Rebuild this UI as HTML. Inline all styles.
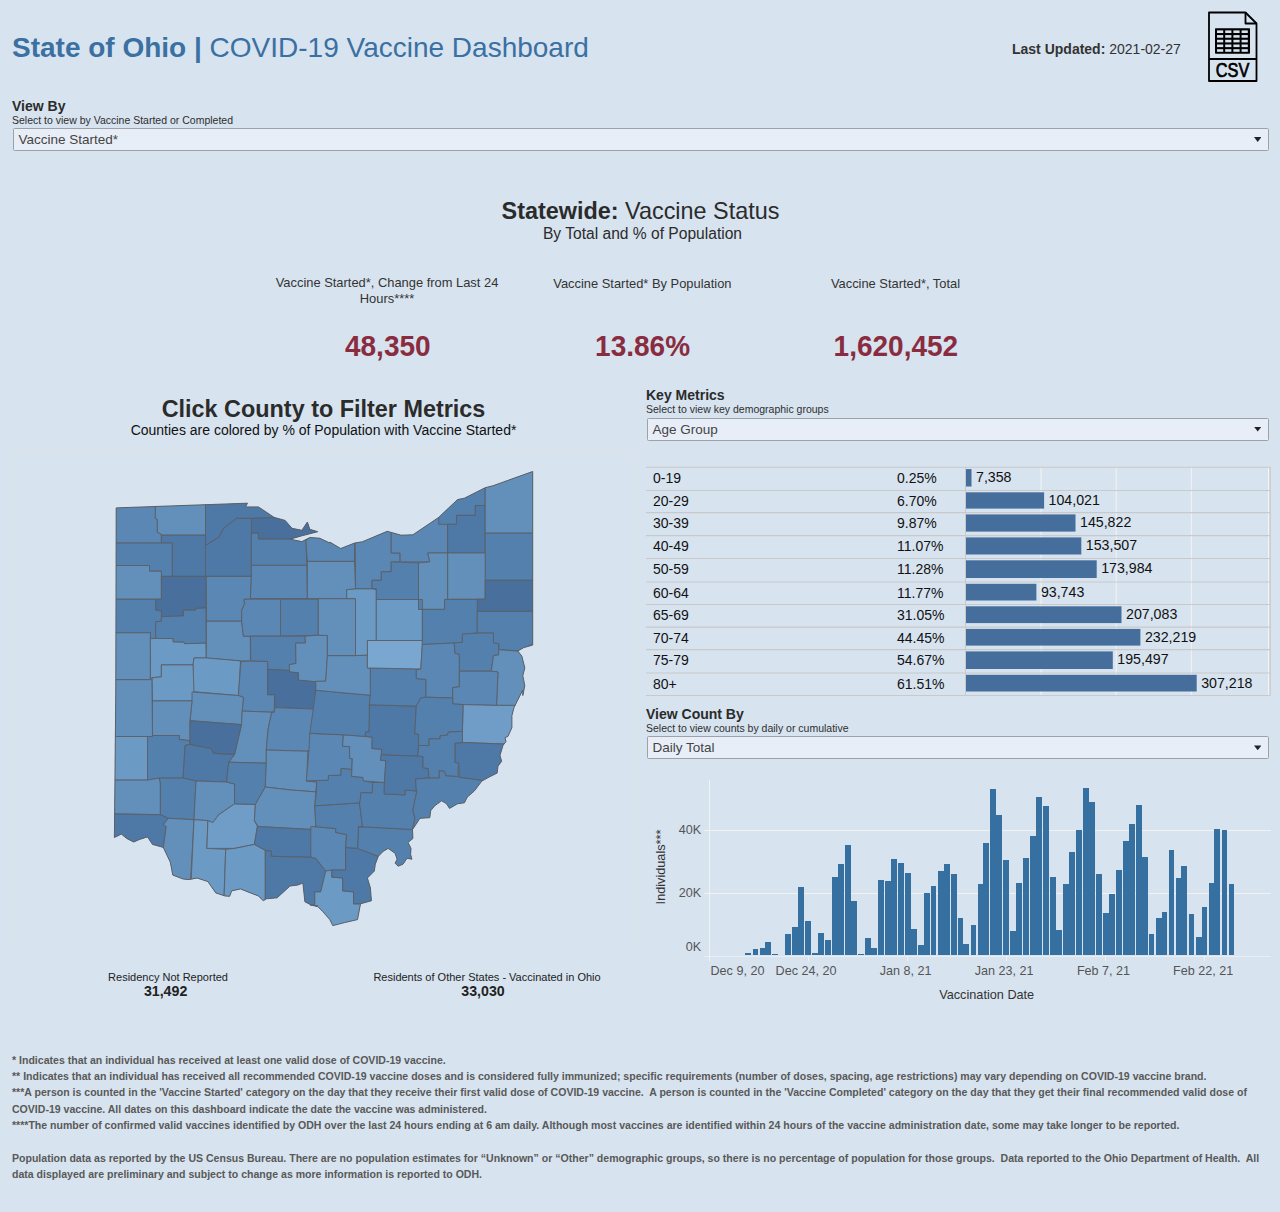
<!DOCTYPE html>
<html><head><meta charset="utf-8">
<title>State of Ohio | COVID-19 Vaccine Dashboard</title>
<style>
*{margin:0;padding:0;box-sizing:border-box}
html,body{width:1280px;height:1212px;overflow:hidden;background:#d7e3ef;font-family:"Liberation Sans",Arial,sans-serif;color:#333}
.a{position:absolute;white-space:nowrap}
.title{left:12px;top:31.7px;font-size:28px;color:#3a70a2}
.upd{left:1012px;top:40.8px;font-size:14px;color:#333}
.lbl{font-size:14px;font-weight:bold;color:#2b2b2b}
.sub{font-size:10.5px;color:#2e2e2e}
.dd{position:absolute;background:#e8eef7;border:1px solid #9ea2a7;border-radius:1.5px;height:23px;font-size:13.5px;color:#333;padding-left:4.5px;line-height:22px;color:#444}
.dd:after{content:"";position:absolute;right:6.6px;top:8px;width:7.4px;height:4.9px;background:#222;clip-path:polygon(0 0,100% 0,50% 100%)}
.kl{font-size:12.9px;color:#333;text-align:center}
.kv{font-size:28px;font-weight:bold;color:#8a2c40;text-align:center;transform:scaleY(1.06);transform-origin:50% 25.8px}
.foot{left:12px;font-size:10.55px;font-weight:bold;color:#595959;line-height:16.3px}
.tt{font-size:14px;fill:#111}
.tv{font-size:14.2px;fill:#111}
.ax{font-size:12.6px;fill:#555}
.axt{font-size:12.7px;fill:#333}
svg text{font-family:"Liberation Sans",Arial,sans-serif}
</style></head><body>
<div class="a title"><b>State of Ohio |</b> COVID-19 Vaccine Dashboard</div>
<div class="a upd"><b>Last Updated:</b> 2021-02-27</div>
<svg class="a" style="left:1204px;top:8px" width="58" height="78" viewBox="1204 8 58 78">
 <path d="M1209 12.5 H1245.5 L1256.5 23.5 V81 H1209 Z" fill="none" stroke="#000" stroke-width="1.8" stroke-linejoin="round"/>
 <path d="M1245.5 12.5 V23.5 H1256.5" fill="none" stroke="#000" stroke-width="1.8" stroke-linejoin="round"/>
 <line x1="1209" y1="59" x2="1256.5" y2="59" stroke="#000" stroke-width="1.8"/>
 <rect x="1215" y="28.2" width="35" height="25.6" fill="#000" rx="0.8"/>
 <g fill="#d7e3ef">
  <rect x="1217" y="30.4" width="6.2" height="2.6"/><rect x="1225.2" y="30.4" width="6.2" height="2.6"/><rect x="1233.4" y="30.4" width="6.2" height="2.6"/><rect x="1241.6" y="30.4" width="6.2" height="2.6"/>
  <rect x="1217" y="35.1" width="6.2" height="2.6"/><rect x="1225.2" y="35.1" width="6.2" height="2.6"/><rect x="1233.4" y="35.1" width="6.2" height="2.6"/><rect x="1241.6" y="35.1" width="6.2" height="2.6"/>
  <rect x="1217" y="39.8" width="6.2" height="2.6"/><rect x="1225.2" y="39.8" width="6.2" height="2.6"/><rect x="1233.4" y="39.8" width="6.2" height="2.6"/><rect x="1241.6" y="39.8" width="6.2" height="2.6"/>
  <rect x="1217" y="44.5" width="6.2" height="2.6"/><rect x="1225.2" y="44.5" width="6.2" height="2.6"/><rect x="1233.4" y="44.5" width="6.2" height="2.6"/><rect x="1241.6" y="44.5" width="6.2" height="2.6"/>
  <rect x="1217" y="49.2" width="6.2" height="2.6"/><rect x="1225.2" y="49.2" width="6.2" height="2.6"/><rect x="1233.4" y="49.2" width="6.2" height="2.6"/><rect x="1241.6" y="49.2" width="6.2" height="2.6"/>
 </g>
 <text x="1232.6" y="77.4" font-family="DejaVu Sans" font-size="19.4" text-anchor="middle" fill="#000" stroke="#000" stroke-width="0.7" textLength="33.5" lengthAdjust="spacingAndGlyphs">CSV</text>
</svg>

<div class="a lbl" style="left:12px;top:98px">View By</div>
<div class="a sub" style="left:12px;top:113.8px">Select to view by Vaccine Started or Completed</div>
<div class="dd" style="left:13px;top:128px;width:1256px">Vaccine Started*</div>

<div class="a" style="left:0;width:1280px;top:198.3px;text-align:center;font-size:23.4px;color:#2b2b2b;padding-left:1px"><b>Statewide:</b> Vaccine Status</div>
<div class="a" style="left:0;width:1280px;top:225.3px;text-align:center;font-size:15.6px;color:#2b2b2b;padding-left:5px">By Total and % of Population</div>

<div class="a kl" style="left:267px;width:240px;top:275.0px;white-space:normal;line-height:16.3px">Vaccine Started*, Change from Last 24 Hours****</div>
<div class="a kl" style="left:522.4px;width:240px;top:275.6px">Vaccine Started* By Population</div>
<div class="a kl" style="left:775.5px;width:240px;top:275.6px">Vaccine Started*, Total</div>
<div class="a kv" style="left:267.8px;width:240px;top:331.35px">48,350</div>
<div class="a kv" style="left:522.6px;width:240px;top:331.35px">13.86%</div>
<div class="a kv" style="left:775.9px;width:240px;top:331.35px">1,620,452</div>

<!-- MAP -->
<div class="a" style="left:0;width:647px;top:395.8px;text-align:center;font-size:23.4px;font-weight:bold;color:#2b2b2b">Click County to Filter Metrics</div>
<div class="a" style="left:0;width:647px;top:421.5px;text-align:center;font-size:14px;color:#111">Counties are colored by % of Population with Vaccine Started*</div>
<div class="a" style="left:12px;top:449px;width:625px;height:501px;border:1px solid #dfe2e6"></div>
<svg class="a" style="left:0;top:440px" width="640" height="520" viewBox="0 440 640 520">
<defs><clipPath id="oh"><polygon points="116.2,507.9 247.5,503.2 245.5,506.9 258.4,506.9 274.2,517.4 285.1,520.4 292.0,528.3 301.9,530.3 307.4,522.0 309.8,529.3 317.7,531.7 301.9,535.8 290.0,539.2 301.9,541.6 309.8,537.6 319.7,538.2 330.0,543.1 329.8,542.1 340.7,548.5 354.5,543.1 362.5,541.7 387.2,531.3 401.1,535.2 412.9,534.8 438.7,517.4 457.5,499.6 464.4,498.2 485.2,487.7 493.1,485.7 532.7,471.5 532.7,645.1 523.8,647.6 517.8,651.0 521.8,656.0 524.8,667.8 522.8,675.8 524.8,685.7 522.8,695.6 522.8,690.0 516.8,701.9 513.9,707.8 511.9,715.7 511.9,727.6 507.9,736.5 505.0,737.5 506.0,741.5 503.0,745.4 500.0,755.3 501.6,761.3 498.0,766.2 497.1,773.1 489.1,777.1 481.8,781.1 474.3,791.0 467.4,796.9 464.4,802.8 457.5,803.8 449.5,808.4 446.6,803.8 441.6,800.8 434.7,805.8 430.7,810.7 429.8,817.7 419.9,818.3 415.9,824.6 412.5,829.5 412.9,838.5 408.0,842.4 411.0,848.4 410.6,854.3 411.9,859.2 407.0,858.3 403.0,864.2 398.1,866.2 395.1,863.2 397.1,859.2 395.1,853.3 388.2,848.4 383.2,851.3 378.3,856.3 375.3,864.2 374.3,871.1 367.4,878.0 370.4,887.9 371.4,900.8 360.5,903.8 357.5,919.6 344.6,922.6 332.8,925.6 329.8,919.6 322.9,911.7 317.9,906.7 310.0,904.8 317.7,905.8 310.8,904.8 304.9,901.8 302.9,883.0 297.9,885.0 290.0,886.0 277.2,897.8 266.3,898.8 263.3,900.8 258.4,895.9 250.4,892.9 240.5,888.9 231.6,890.9 229.7,896.3 224.7,895.9 215.8,892.9 207.9,881.6 197.0,878.0 189.1,879.6 183.1,879.0 172.8,875.1 170.3,862.2 163.3,847.4 152.5,844.4 147.5,836.9 139.6,839.4 133.7,842.0 126.7,838.5 121.4,834.1 114.4,837.5 115.8,690.0"/></clipPath></defs>
<polygon points="116.2,507.9 247.5,503.2 245.5,506.9 258.4,506.9 274.2,517.4 285.1,520.4 292.0,528.3 301.9,530.3 307.4,522.0 309.8,529.3 317.7,531.7 301.9,535.8 290.0,539.2 301.9,541.6 309.8,537.6 319.7,538.2 330.0,543.1 329.8,542.1 340.7,548.5 354.5,543.1 362.5,541.7 387.2,531.3 401.1,535.2 412.9,534.8 438.7,517.4 457.5,499.6 464.4,498.2 485.2,487.7 493.1,485.7 532.7,471.5 532.7,645.1 523.8,647.6 517.8,651.0 521.8,656.0 524.8,667.8 522.8,675.8 524.8,685.7 522.8,695.6 522.8,690.0 516.8,701.9 513.9,707.8 511.9,715.7 511.9,727.6 507.9,736.5 505.0,737.5 506.0,741.5 503.0,745.4 500.0,755.3 501.6,761.3 498.0,766.2 497.1,773.1 489.1,777.1 481.8,781.1 474.3,791.0 467.4,796.9 464.4,802.8 457.5,803.8 449.5,808.4 446.6,803.8 441.6,800.8 434.7,805.8 430.7,810.7 429.8,817.7 419.9,818.3 415.9,824.6 412.5,829.5 412.9,838.5 408.0,842.4 411.0,848.4 410.6,854.3 411.9,859.2 407.0,858.3 403.0,864.2 398.1,866.2 395.1,863.2 397.1,859.2 395.1,853.3 388.2,848.4 383.2,851.3 378.3,856.3 375.3,864.2 374.3,871.1 367.4,878.0 370.4,887.9 371.4,900.8 360.5,903.8 357.5,919.6 344.6,922.6 332.8,925.6 329.8,919.6 322.9,911.7 317.9,906.7 310.0,904.8 317.7,905.8 310.8,904.8 304.9,901.8 302.9,883.0 297.9,885.0 290.0,886.0 277.2,897.8 266.3,898.8 263.3,900.8 258.4,895.9 250.4,892.9 240.5,888.9 231.6,890.9 229.7,896.3 224.7,895.9 215.8,892.9 207.9,881.6 197.0,878.0 189.1,879.6 183.1,879.0 172.8,875.1 170.3,862.2 163.3,847.4 152.5,844.4 147.5,836.9 139.6,839.4 133.7,842.0 126.7,838.5 121.4,834.1 114.4,837.5 115.8,690.0" fill="#5a87b4"/>
<g clip-path="url(#oh)" stroke="#5b6066" stroke-width="0.9" stroke-linejoin="round">
<polygon points="107.9,499.6 155.4,499.6 155.4,518.4 157.4,519.4 157.4,532.2 161.4,534.2 161.4,543.1 107.9,543.1" fill="#5a87b4"/>
<polygon points="155.4,499.6 205.5,499.6 205.5,535.2 161.4,535.2 161.4,534.2 157.4,532.2 157.4,519.4 155.4,518.4" fill="#6290bb"/>
<polygon points="205.5,495.6 278.1,495.6 278.1,517.4 251.4,518.4 236.6,518.4 223.7,528.3 218.8,537.2 206.9,544.7 205.5,544.7" fill="#4e78a5"/>
<polygon points="251.4,518.4 278.1,517.4 278.1,511.5 337.5,511.5 337.5,537.2 305.9,539.2 258.4,539.2 258.4,533.2 251.4,533.2" fill="#49709c"/>
<polygon points="161.4,535.2 205.5,535.2 205.5,576.4 172.2,576.4 172.2,543.1 161.4,543.1" fill="#4e78a5"/>
<polygon points="205.5,544.7 206.9,544.7 218.8,537.2 223.7,528.3 236.6,518.4 251.4,518.4 251.4,576.4 205.5,576.4" fill="#4e78a5"/>
<polygon points="107.9,543.1 172.2,543.1 172.2,576.4 161.4,576.4 161.4,571.2 149.5,571.2 149.5,565.5 107.9,565.5" fill="#5480ae"/>
<polygon points="251.4,533.2 258.4,533.2 258.4,539.2 305.9,539.2 306.8,565.3 251.4,565.3" fill="#5480ae"/>
<polygon points="107.9,565.5 149.5,565.5 149.5,571.2 161.4,571.2 161.4,599.2 107.9,599.2" fill="#6290bb"/>
<polygon points="161.4,576.4 206.3,576.4 205.9,607.9 195.5,608.5 195.5,610.2 183.4,610.2 183.4,616.0 161.4,616.6 161.4,610.8 155.6,610.2 155.6,599.3 161.4,599.2" fill="#49709c"/>
<polygon points="206.3,576.4 251.4,576.4 250.4,599.2 244.0,599.3 244.6,603.9 241.7,610.2 241.7,621.2 206.5,621.2" fill="#5a87b4"/>
<polygon points="251.4,565.3 306.8,565.3 307.4,598.6 250.4,598.6 251.4,576.4" fill="#5a87b4"/>
<polygon points="105.0,599.3 155.6,599.3 155.6,610.2 161.4,610.8 161.4,621.2 155.6,621.8 155.6,638.5 150.4,638.5 150.4,632.8 105.0,632.8" fill="#5480ae"/>
<polygon points="161.4,616.6 183.4,616.0 183.4,610.2 195.5,610.2 195.5,608.5 205.9,607.9 206.3,643.2 184.5,643.7 183.9,642.2 173.0,642.0 173.0,638.5 155.6,638.5 155.6,621.8 161.4,621.2" fill="#5480ae"/>
<polygon points="105.0,632.8 150.4,632.8 150.4,679.7 105.0,679.7" fill="#6290bb"/>
<polygon points="150.4,638.5 173.0,638.5 173.0,642.0 183.9,642.2 184.5,643.7 205.9,643.2 206.3,658.0 194.0,658.0 193.0,664.9 161.4,664.9 161.4,676.8 151.9,677.8 150.5,679.7" fill="#6b9ac5"/>
<polygon points="206.5,621.2 241.7,621.2 243.4,636.2 250.4,636.6 250.4,660.9 240.5,660.9 206.3,658.0" fill="#6290bb"/>
<polygon points="244.0,599.3 250.4,599.2 280.5,599.2 280.5,636.2 250.4,636.2 243.4,636.2 241.7,621.2 241.7,610.2 244.6,603.9" fill="#5a87b4"/>
<polygon points="280.5,599.2 318.3,599.2 318.3,635.2 280.5,636.2" fill="#5480ae"/>
<polygon points="194.0,657.9 206.3,657.9 240.5,660.9 238.6,695.6 193.0,691.6 193.0,664.9" fill="#6b9ac5"/>
<polygon points="250.4,636.2 305.0,636.2 305.5,643.1 295.7,643.1 296.0,663.4 289.4,664.7 289.5,670.5 267.6,669.3 267.6,661.5 250.8,661.1" fill="#5480ae"/>
<polygon points="305.0,636.2 318.3,635.2 327.4,635.5 327.4,655.6 325.7,681.2 316.0,681.8 298.4,680.2 298.4,672.8 289.5,672.0 289.4,664.7 296.0,663.4 295.7,643.1 305.5,643.1" fill="#6290bb"/>
<polygon points="241.0,661.5 250.8,661.1 267.6,661.5 267.6,694.7 274.6,694.7 274.2,712.3 242.2,711.1 243.4,697.4 238.3,695.5" fill="#5a87b4"/>
<polygon points="267.6,669.3 289.5,670.5 289.5,672.0 298.4,672.8 298.4,680.2 316.0,681.8 314.5,709.1 275.0,707.6 274.6,694.7 267.6,694.7" fill="#49709c"/>
<polygon points="151.9,677.8 161.4,676.8 161.4,664.9 193.0,664.9 194.0,692.0 192.0,700.9 152.5,700.9" fill="#6b9ac5"/>
<polygon points="100.0,679.7 150.5,679.7 151.9,677.8 152.5,736.5 100.0,736.5" fill="#6290bb"/>
<polygon points="192.0,692.0 238.3,695.5 243.4,697.4 242.2,711.1 241.5,724.6 190.0,720.7 192.0,700.9" fill="#6290bb"/>
<polygon points="242.2,711.1 274.2,712.3 271.9,712.3 270.0,720.0 268.0,730.0 266.3,750.0 266.3,763.2 228.7,762.2 234.6,754.3 241.5,724.6" fill="#6290bb"/>
<polygon points="271.9,712.3 274.2,712.3 275.0,707.6 314.5,709.1 313.3,720.0 312.5,733.0 310.0,751.3 266.3,750.0 268.0,730.0 270.0,720.0" fill="#5a87b4"/>
<polygon points="152.5,700.9 192.0,700.9 190.0,720.7 190.0,744.4 189.1,740.5 179.2,739.5 179.2,735.5 152.5,735.5" fill="#6290bb"/>
<polygon points="147.5,736.5 152.5,736.5 152.5,735.5 179.2,735.5 179.2,739.5 189.1,740.5 190.0,744.4 185.1,745.4 183.1,778.1 159.4,778.1 147.5,780.1" fill="#5480ae"/>
<polygon points="185.1,745.4 190.0,744.4 200.0,746.4 210.8,748.4 213.8,753.3 227.7,754.3 234.6,754.3 228.7,762.2 226.7,782.0 196.0,781.0 183.1,778.1" fill="#4e78a5"/>
<polygon points="190.0,720.7 241.5,724.6 234.6,754.3 213.8,753.3 210.8,748.4 200.0,746.4 190.0,744.4" fill="#49709c"/>
<polygon points="100.0,736.5 147.5,736.5 147.5,780.1 100.0,780.1" fill="#6b9ac5"/>
<polygon points="100.0,780.1 147.5,780.1 159.4,778.1 160.4,783.0 160.4,814.7 100.0,813.7" fill="#6290bb"/>
<polygon points="159.4,778.1 183.1,778.1 196.0,781.0 194.0,819.7 168.3,818.3 160.4,814.7 160.4,783.0" fill="#5480ae"/>
<polygon points="196.0,781.0 226.7,782.0 234.6,784.0 234.6,803.8 218.8,814.7 212.8,822.6 207.9,820.6 194.0,819.7" fill="#6290bb"/>
<polygon points="100.0,813.7 160.4,814.7 168.3,818.3 163.3,824.6 166.3,826.6 163.3,847.4 160.0,860.0 100.0,860.0" fill="#4e78a5"/>
<polygon points="168.3,818.3 194.0,819.7 190.0,890.0 160.0,890.0 163.3,847.4 166.3,826.6 163.3,824.6" fill="#6290bb"/>
<polygon points="194.0,819.7 207.9,820.6 206.9,848.4 225.7,849.3 223.7,905.0 190.0,905.0" fill="#6b9ac5"/>
<polygon points="207.9,820.6 212.8,822.6 218.8,814.7 234.6,803.8 255.4,804.4 254.4,820.6 257.4,826.6 254.4,844.4 234.6,848.4 206.9,848.4" fill="#6f9dc8"/>
<polygon points="225.7,849.3 234.6,848.4 254.4,844.4 265.3,850.3 265.3,910.0 223.7,910.0" fill="#6b9ac5"/>
<polygon points="228.7,762.2 266.3,763.2 265.3,787.0 255.4,804.4 234.6,803.8 234.6,784.0 226.7,782.0" fill="#5480ae"/>
<polygon points="266.3,750.0 310.0,751.3 307.8,750.4 306.8,781.0 316.7,782.0 315.8,791.9 291.0,790.0 265.3,787.0 266.3,763.2" fill="#6290bb"/>
<polygon points="255.4,804.4 265.3,787.0 291.0,790.0 315.8,791.9 314.8,805.8 315.8,826.6 312.8,829.5 258.4,826.6 254.4,820.6" fill="#6290bb"/>
<polygon points="257.4,826.6 258.4,826.6 312.8,829.5 310.8,857.3 271.2,856.3 271.2,851.3 265.3,850.3 254.4,844.4" fill="#4e78a5"/>
<polygon points="265.3,850.3 271.2,851.3 271.2,856.3 310.8,857.3 315.8,858.3 325.7,871.1 320.7,891.9 314.8,891.9 314.8,903.8 310.0,935.0 265.3,935.0" fill="#4e78a5"/>
<polygon points="310.8,826.6 315.0,826.6 335.7,828.6 335.7,832.5 346.6,834.5 345.6,847.4 345.6,870.1 331.8,870.1 325.7,871.1 315.8,858.3 310.8,857.3" fill="#5a87b4"/>
<polygon points="325.7,871.1 331.8,870.1 331.8,877.1 342.7,878.0 342.7,890.9 353.5,891.9 353.5,903.8 360.5,903.8 360.0,935.0 300.0,935.0 314.8,903.8 314.8,891.9 320.7,891.9" fill="#6b9ac5"/>
<polygon points="345.6,847.4 357.5,848.4 378.3,856.3 390.0,856.0 390.0,915.0 360.5,903.8 353.5,903.8 353.5,891.9 342.7,890.9 342.7,878.0 331.8,877.1 331.8,870.1 345.6,870.1" fill="#4e78a5"/>
<polygon points="358.5,826.6 412.5,829.5 430.0,830.0 430.0,885.0 380.0,885.0 378.3,856.3 357.5,848.4" fill="#5480ae"/>
<polygon points="315.0,805.8 359.5,802.8 362.5,826.6 358.5,826.6 357.5,848.4 345.6,847.4 346.6,834.5 335.7,832.5 335.7,828.6 315.0,826.6 315.8,826.6 314.8,805.8" fill="#5480ae"/>
<polygon points="306.3,780.9 317.2,780.5 328.1,780.2 328.5,775.5 340.6,775.1 341.0,768.4 351.6,769.2 351.6,776.3 362.9,777.4 363.3,780.9 372.7,782.5 372.3,793.0 360.9,792.7 360.2,802.8 315.0,805.8 314.8,805.8 316.4,792.7 316.7,782.0" fill="#5480ae"/>
<polygon points="372.7,782.5 384.4,782.5 384.2,793.9 405.0,794.9 405.0,790.0 416.9,791.0 412.9,810.0 414.9,818.3 412.5,829.5 358.5,826.6 362.5,826.6 359.5,802.8 360.2,800.0 360.9,792.7 372.3,793.0" fill="#5480ae"/>
<polygon points="309.8,733.3 343.4,734.8 342.6,746.2 349.6,746.6 349.6,758.3 352.3,758.7 351.6,769.2 341.0,768.4 340.6,775.1 328.5,775.5 328.1,780.2 317.2,780.5 306.3,780.9 309.0,750.1" fill="#5a87b4"/>
<polygon points="343.4,734.8 364.8,736.4 372.3,737.2 371.9,748.5 381.6,749.3 381.3,754.6 380.5,760.2 385.9,760.6 384.4,782.5 363.3,780.9 362.9,777.4 351.6,776.3 352.3,758.7 349.6,758.3 349.6,746.6 342.6,746.2" fill="#6290bb"/>
<polygon points="381.3,754.6 400.0,755.5 417.8,755.9 423.0,756.6 423.0,767.7 428.2,768.5 429.0,778.1 415.6,778.9 416.3,790.0 416.9,791.0 405.0,790.0 405.0,794.9 384.2,793.9 384.4,782.5 385.9,760.6 380.5,760.2" fill="#4e78a5"/>
<polygon points="315.8,690.2 342.2,692.7 370.3,695.2 369.4,704.8 369.5,720.0 369.1,731.7 365.6,732.1 365.2,736.4 343.4,734.8 309.8,733.3 313.3,709.0" fill="#5480ae"/>
<polygon points="369.4,704.8 416.3,706.1 414.8,733.6 418.6,734.3 418.6,745.5 417.8,755.9 400.0,755.5 381.3,754.6 381.6,749.3 371.9,748.5 372.3,737.2 365.2,736.4 365.6,732.1 369.1,731.7" fill="#4e78a5"/>
<polygon points="370.3,668.0 420.8,669.0 416.3,669.7 416.3,678.6 426.0,679.4 426.0,697.2 420.8,698.0 416.3,706.1 369.4,704.8 370.3,695.2" fill="#5480ae"/>
<polygon points="327.4,655.6 355.4,655.6 367.4,655.0 367.4,668.0 370.3,668.0 370.3,695.2 342.2,692.7 315.8,690.2 315.8,681.2 325.7,681.2" fill="#6290bb"/>
<polygon points="367.4,640.5 422.4,640.5 422.3,644.5 420.8,669.0 370.3,668.0 367.4,668.0" fill="#7aa7cf"/>
<polygon points="318.3,598.6 355.5,598.6 355.5,655.6 327.4,655.6 327.4,635.5 318.3,635.2" fill="#6290bb"/>
<polygon points="346.6,589.7 355.5,588.7 372.0,588.7 376.3,589.7 376.3,640.5 367.4,640.5 367.4,655.0 355.5,655.6 355.5,598.6 346.6,598.6" fill="#6b9ac5"/>
<polygon points="376.3,599.5 422.4,599.5 422.4,640.5 376.3,640.5" fill="#6b9ac5"/>
<polygon points="307.4,561.3 354.5,561.3 355.5,588.7 346.6,589.7 346.6,598.6 307.4,598.6" fill="#6290bb"/>
<polygon points="305.9,541.5 309.0,537.0 320.0,536.5 340.0,530.0 354.5,520.0 354.5,561.3 307.4,561.3" fill="#5a87b4"/>
<polygon points="354.5,519.4 391.2,519.4 391.2,553.0 400.1,553.0 400.1,561.9 391.2,561.9 391.2,571.8 381.3,571.8 381.3,580.3 372.0,580.3 372.0,588.7 355.5,588.7 355.5,561.3" fill="#5a87b4"/>
<polygon points="391.2,519.4 447.6,509.5 447.6,553.0 427.8,553.0 429.8,561.9 400.1,561.9 400.1,553.0 391.2,553.0" fill="#5a87b4"/>
<polygon points="428.8,509.5 485.2,460.0 485.2,505.5 475.3,505.5 475.3,515.4 456.5,515.4 456.5,524.3 438.7,524.3 438.7,517.4" fill="#5480ae"/>
<polygon points="447.6,524.3 456.5,524.3 456.5,515.4 475.3,515.4 475.3,505.5 485.2,505.5 485.2,553.0 447.6,553.0" fill="#4e78a5"/>
<polygon points="485.2,460.0 547.5,460.0 547.5,533.2 485.2,533.2" fill="#6290bb"/>
<polygon points="485.2,533.2 547.5,533.2 547.5,580.3 485.2,580.3" fill="#5480ae"/>
<polygon points="447.6,553.0 485.2,553.0 485.2,599.2 447.6,599.2" fill="#6290bb"/>
<polygon points="418.5,562.9 429.8,561.9 427.8,553.0 447.6,553.0 447.6,599.2 444.6,599.5 444.6,609.4 418.5,609.4" fill="#6290bb"/>
<polygon points="372.0,588.7 372.0,580.3 381.3,580.3 381.3,571.8 391.2,571.8 391.2,561.9 418.5,562.9 418.5,599.5 376.3,599.5 376.3,588.7" fill="#5480ae"/>
<polygon points="485.2,580.3 547.5,580.3 547.5,611.4 477.3,611.4 477.3,599.2 485.2,599.2" fill="#49709c"/>
<polygon points="418.5,609.4 444.6,609.4 444.6,599.5 477.3,599.5 477.2,633.1 462.4,634.1 462.4,642.3 454.2,643.0 422.3,644.5 422.4,640.5 422.4,599.5 418.5,599.5" fill="#5480ae"/>
<polygon points="477.3,611.4 540.0,611.4 540.0,643.8 532.9,643.8 518.0,651.2 510.6,650.4 498.7,649.7 498.7,643.8 493.5,643.0 493.5,633.1 477.2,633.1" fill="#5480ae"/>
<polygon points="422.3,644.5 454.2,643.0 455.0,653.4 459.4,654.2 459.4,686.8 452.7,687.6 452.7,698.0 426.0,697.2 426.0,679.4 416.3,678.6 416.3,669.7 420.8,669.0" fill="#5a87b4"/>
<polygon points="462.4,634.1 477.2,633.1 493.5,633.1 493.5,643.0 498.7,643.8 498.7,654.9 493.5,655.6 491.3,671.2 459.4,671.2 459.4,654.2 455.0,653.4 454.2,643.0 462.4,642.3" fill="#5480ae"/>
<polygon points="498.7,649.7 518.0,651.2 540.0,650.0 540.0,705.4 514.3,705.4 496.5,705.4 498.0,672.0 491.3,671.2 493.5,655.6 498.7,654.9" fill="#6290bb"/>
<polygon points="459.4,671.2 491.3,671.2 498.0,672.0 496.5,705.4 463.1,704.6 452.7,703.9 452.7,687.6 459.4,686.8" fill="#5a87b4"/>
<polygon points="463.1,704.6 496.5,705.4 514.3,705.4 540.0,705.0 540.0,744.0 503.9,744.0 462.4,742.5 462.4,731.4" fill="#6f9dc8"/>
<polygon points="462.4,742.5 503.9,744.0 540.0,744.0 540.0,790.0 481.7,780.4 459.4,777.4 458.6,763.3 454.9,762.5 454.9,743.2" fill="#4e78a5"/>
<polygon points="420.8,698.0 426.0,697.2 452.7,698.0 452.7,703.9 463.1,704.6 462.4,731.4 448.3,732.1 447.5,735.1 440.1,735.8 440.1,738.8 429.0,738.8 429.0,745.5 418.6,745.5 418.6,734.3 414.8,733.6 416.3,706.1" fill="#5480ae"/>
<polygon points="462.4,731.4 462.4,742.5 454.9,743.2 454.9,762.5 458.6,763.3 457.9,776.6 446.0,775.9 444.5,771.4 439.3,770.7 439.3,778.1 429.0,778.1 428.2,768.5 423.0,767.7 423.0,756.6 417.8,755.9 418.6,745.5 429.0,745.5 429.0,738.8 440.1,738.8 440.1,735.8 447.5,735.1 448.3,732.1" fill="#5480ae"/>
<polygon points="415.6,778.9 429.0,778.1 439.3,778.1 439.3,770.7 444.5,771.4 446.0,775.9 457.9,776.6 459.4,777.4 481.7,780.4 500.0,790.0 470.0,835.0 412.5,829.5 414.9,818.3 412.9,810.0 416.9,791.0 416.3,790.0" fill="#5480ae"/>
</g>
<polygon points="116.2,507.9 247.5,503.2 245.5,506.9 258.4,506.9 274.2,517.4 285.1,520.4 292.0,528.3 301.9,530.3 307.4,522.0 309.8,529.3 317.7,531.7 301.9,535.8 290.0,539.2 301.9,541.6 309.8,537.6 319.7,538.2 330.0,543.1 329.8,542.1 340.7,548.5 354.5,543.1 362.5,541.7 387.2,531.3 401.1,535.2 412.9,534.8 438.7,517.4 457.5,499.6 464.4,498.2 485.2,487.7 493.1,485.7 532.7,471.5 532.7,645.1 523.8,647.6 517.8,651.0 521.8,656.0 524.8,667.8 522.8,675.8 524.8,685.7 522.8,695.6 522.8,690.0 516.8,701.9 513.9,707.8 511.9,715.7 511.9,727.6 507.9,736.5 505.0,737.5 506.0,741.5 503.0,745.4 500.0,755.3 501.6,761.3 498.0,766.2 497.1,773.1 489.1,777.1 481.8,781.1 474.3,791.0 467.4,796.9 464.4,802.8 457.5,803.8 449.5,808.4 446.6,803.8 441.6,800.8 434.7,805.8 430.7,810.7 429.8,817.7 419.9,818.3 415.9,824.6 412.5,829.5 412.9,838.5 408.0,842.4 411.0,848.4 410.6,854.3 411.9,859.2 407.0,858.3 403.0,864.2 398.1,866.2 395.1,863.2 397.1,859.2 395.1,853.3 388.2,848.4 383.2,851.3 378.3,856.3 375.3,864.2 374.3,871.1 367.4,878.0 370.4,887.9 371.4,900.8 360.5,903.8 357.5,919.6 344.6,922.6 332.8,925.6 329.8,919.6 322.9,911.7 317.9,906.7 310.0,904.8 317.7,905.8 310.8,904.8 304.9,901.8 302.9,883.0 297.9,885.0 290.0,886.0 277.2,897.8 266.3,898.8 263.3,900.8 258.4,895.9 250.4,892.9 240.5,888.9 231.6,890.9 229.7,896.3 224.7,895.9 215.8,892.9 207.9,881.6 197.0,878.0 189.1,879.6 183.1,879.0 172.8,875.1 170.3,862.2 163.3,847.4 152.5,844.4 147.5,836.9 139.6,839.4 133.7,842.0 126.7,838.5 121.4,834.1 114.4,837.5 115.8,690.0" fill="none" stroke="#5b6066" stroke-width="1" stroke-linejoin="round"/>
</svg>

<div class="a" style="left:68px;width:200px;top:970.8px;text-align:center;font-size:11px;color:#222">Residency Not Reported</div>
<div class="a" style="left:65.6px;width:200px;top:982.5px;text-align:center;font-size:14.2px;font-weight:bold;color:#222">31,492</div>
<div class="a" style="left:337px;width:300px;top:970.8px;text-align:center;font-size:11px;color:#222">Residents of Other States - Vaccinated in Ohio</div>
<div class="a" style="left:333px;width:300px;top:982.5px;text-align:center;font-size:14.2px;font-weight:bold;color:#222">33,030</div>

<!-- KEY METRICS -->
<div class="a lbl" style="left:646px;top:386.8px">Key Metrics</div>
<div class="a sub" style="left:646px;top:402.8px">Select to view key demographic groups</div>
<div class="dd" style="left:647px;top:417.7px;width:622px">Age Group</div>
<svg class="a" style="left:640px;top:460px" width="640" height="245" viewBox="640 460 640 245">
<line x1="1041.1" y1="467.0" x2="1041.1" y2="695.3" stroke="#f4f4f4" stroke-width="1"/>
<line x1="1116.2" y1="467.0" x2="1116.2" y2="695.3" stroke="#f4f4f4" stroke-width="1"/>
<line x1="1191.3" y1="467.0" x2="1191.3" y2="695.3" stroke="#f4f4f4" stroke-width="1"/>
<line x1="1268.5" y1="467.0" x2="1268.5" y2="695.3" stroke="#f4f4f4" stroke-width="1"/>
<rect x="966.0" y="469.1" width="5.5" height="17.4" fill="#456e9d"/>
<text x="653" y="482.9" class="tt">0-19</text>
<text x="897" y="482.9" class="tt">0.25%</text>
<text x="976.0" y="482.0" class="tv">7,358</text>
<rect x="966.0" y="492.3" width="78.1" height="16.3" fill="#456e9d"/>
<text x="653" y="506.1" class="tt">20-29</text>
<text x="897" y="506.1" class="tt">6.70%</text>
<text x="1048.6" y="505.2" class="tv">104,021</text>
<rect x="966.0" y="514.4" width="109.5" height="17.2" fill="#456e9d"/>
<text x="653" y="528.2" class="tt">30-39</text>
<text x="897" y="528.2" class="tt">9.87%</text>
<text x="1080.0" y="527.3" class="tv">145,822</text>
<rect x="966.0" y="537.4" width="115.3" height="17.1" fill="#456e9d"/>
<text x="653" y="551.2" class="tt">40-49</text>
<text x="897" y="551.2" class="tt">11.07%</text>
<text x="1085.8" y="550.3" class="tv">153,507</text>
<rect x="966.0" y="560.3" width="130.7" height="17.7" fill="#456e9d"/>
<text x="653" y="574.1" class="tt">50-59</text>
<text x="897" y="574.1" class="tt">11.28%</text>
<text x="1101.2" y="573.2" class="tv">173,984</text>
<rect x="966.0" y="583.8" width="70.4" height="16.7" fill="#456e9d"/>
<text x="653" y="597.6" class="tt">60-64</text>
<text x="897" y="597.6" class="tt">11.77%</text>
<text x="1040.9" y="596.7" class="tv">93,743</text>
<rect x="966.0" y="606.3" width="155.5" height="16.8" fill="#456e9d"/>
<text x="653" y="620.1" class="tt">65-69</text>
<text x="897" y="620.1" class="tt">31.05%</text>
<text x="1126.0" y="619.2" class="tv">207,083</text>
<rect x="966.0" y="628.9" width="174.4" height="16.7" fill="#456e9d"/>
<text x="653" y="642.7" class="tt">70-74</text>
<text x="897" y="642.7" class="tt">44.45%</text>
<text x="1144.9" y="641.8" class="tv">232,219</text>
<rect x="966.0" y="651.4" width="146.8" height="17.6" fill="#456e9d"/>
<text x="653" y="665.2" class="tt">75-79</text>
<text x="897" y="665.2" class="tt">54.67%</text>
<text x="1117.3" y="664.3" class="tv">195,497</text>
<rect x="966.0" y="674.8" width="230.7" height="16.7" fill="#456e9d"/>
<text x="653" y="688.6" class="tt">80+</text>
<text x="897" y="688.6" class="tt">61.51%</text>
<text x="1201.2" y="687.7" class="tv">307,218</text>
<line x1="646" y1="467.3" x2="1270.5" y2="467.3" stroke="#c9c9c9" stroke-width="1.1"/>
<line x1="646" y1="490.5" x2="1270.5" y2="490.5" stroke="#c9c9c9" stroke-width="1.1"/>
<line x1="646" y1="512.6" x2="1270.5" y2="512.6" stroke="#c9c9c9" stroke-width="1.1"/>
<line x1="646" y1="535.6" x2="1270.5" y2="535.6" stroke="#c9c9c9" stroke-width="1.1"/>
<line x1="646" y1="558.5" x2="1270.5" y2="558.5" stroke="#c9c9c9" stroke-width="1.1"/>
<line x1="646" y1="582.0" x2="1270.5" y2="582.0" stroke="#c9c9c9" stroke-width="1.1"/>
<line x1="646" y1="604.5" x2="1270.5" y2="604.5" stroke="#c9c9c9" stroke-width="1.1"/>
<line x1="646" y1="627.1" x2="1270.5" y2="627.1" stroke="#c9c9c9" stroke-width="1.1"/>
<line x1="646" y1="649.6" x2="1270.5" y2="649.6" stroke="#c9c9c9" stroke-width="1.1"/>
<line x1="646" y1="673.0" x2="1270.5" y2="673.0" stroke="#c9c9c9" stroke-width="1.1"/>
<line x1="646" y1="695.5" x2="1270.5" y2="695.5" stroke="#c9c9c9" stroke-width="1.1"/>
<line x1="965.5" y1="467.0" x2="965.5" y2="695.3" stroke="#c9c9c9" stroke-width="1"/>
<line x1="1270.2" y1="467.0" x2="1270.2" y2="695.3" stroke="#c9c9c9" stroke-width="1.2"/>
</svg>

<!-- VIEW COUNT -->
<div class="a lbl" style="left:646px;top:705.6px">View Count By</div>
<div class="a sub" style="left:646px;top:721.8px">Select to view counts by daily or cumulative</div>
<div class="dd" style="left:647px;top:736.4px;width:622px">Daily Total</div>
<svg class="a" style="left:640px;top:770px" width="640" height="240" viewBox="640 770 640 240">
<g shape-rendering="crispEdges">
<line x1="709.5" y1="780" x2="709.5" y2="957" stroke="#f2f2f2" stroke-width="1"/>
<line x1="703.5" y1="830.5" x2="1270.5" y2="830.5" stroke="#f2f2f2" stroke-width="1"/>
<line x1="703.5" y1="893.5" x2="1270.5" y2="893.5" stroke="#f2f2f2" stroke-width="1"/>
<line x1="703.5" y1="956.5" x2="1270.5" y2="956.5" stroke="#e9eef4" stroke-width="1"/>
<rect x="745" y="953" width="6" height="2" fill="#3570a1"/>
<rect x="753" y="949" width="5" height="6" fill="#3570a1"/>
<rect x="760" y="948" width="5" height="7" fill="#3570a1"/>
<rect x="765" y="942" width="6" height="13" fill="#3570a1"/>
<rect x="772" y="954" width="6" height="1" fill="#3570a1"/>
<rect x="785" y="934" width="6" height="21" fill="#3570a1"/>
<rect x="792" y="927" width="6" height="28" fill="#3570a1"/>
<rect x="798" y="887" width="6" height="68" fill="#3570a1"/>
<rect x="805" y="921" width="6" height="34" fill="#3570a1"/>
<rect x="812" y="953" width="6" height="2" fill="#3570a1"/>
<rect x="818" y="933" width="6" height="22" fill="#3570a1"/>
<rect x="825" y="940" width="6" height="15" fill="#3570a1"/>
<rect x="832" y="877" width="6" height="78" fill="#3570a1"/>
<rect x="838" y="864" width="6" height="91" fill="#3570a1"/>
<rect x="845" y="845" width="6" height="110" fill="#3570a1"/>
<rect x="851" y="901" width="6" height="54" fill="#3570a1"/>
<rect x="858" y="954" width="6" height="1" fill="#3570a1"/>
<rect x="865" y="938" width="6" height="17" fill="#3570a1"/>
<rect x="871" y="948" width="6" height="7" fill="#3570a1"/>
<rect x="878" y="880" width="6" height="75" fill="#3570a1"/>
<rect x="885" y="881" width="6" height="74" fill="#3570a1"/>
<rect x="891" y="859" width="6" height="96" fill="#3570a1"/>
<rect x="898" y="863" width="6" height="92" fill="#3570a1"/>
<rect x="905" y="873" width="6" height="82" fill="#3570a1"/>
<rect x="911" y="929" width="6" height="26" fill="#3570a1"/>
<rect x="918" y="945" width="6" height="10" fill="#3570a1"/>
<rect x="924" y="893" width="6" height="62" fill="#3570a1"/>
<rect x="931" y="886" width="5" height="69" fill="#3570a1"/>
<rect x="938" y="871" width="6" height="84" fill="#3570a1"/>
<rect x="944" y="864" width="6" height="91" fill="#3570a1"/>
<rect x="951" y="874" width="6" height="81" fill="#3570a1"/>
<rect x="958" y="918" width="5" height="37" fill="#3570a1"/>
<rect x="963" y="944" width="6" height="11" fill="#3570a1"/>
<rect x="971" y="925" width="5" height="30" fill="#3570a1"/>
<rect x="978" y="884" width="5" height="71" fill="#3570a1"/>
<rect x="983" y="843" width="6" height="112" fill="#3570a1"/>
<rect x="990" y="789" width="6" height="166" fill="#3570a1"/>
<rect x="996" y="815" width="6" height="140" fill="#3570a1"/>
<rect x="1003" y="860" width="6" height="95" fill="#3570a1"/>
<rect x="1010" y="931" width="6" height="24" fill="#3570a1"/>
<rect x="1016" y="883" width="6" height="72" fill="#3570a1"/>
<rect x="1023" y="858" width="6" height="97" fill="#3570a1"/>
<rect x="1030" y="836" width="6" height="119" fill="#3570a1"/>
<rect x="1036" y="797" width="6" height="158" fill="#3570a1"/>
<rect x="1043" y="806" width="6" height="149" fill="#3570a1"/>
<rect x="1050" y="877" width="6" height="78" fill="#3570a1"/>
<rect x="1056" y="930" width="6" height="25" fill="#3570a1"/>
<rect x="1063" y="884" width="6" height="71" fill="#3570a1"/>
<rect x="1069" y="852" width="6" height="103" fill="#3570a1"/>
<rect x="1076" y="830" width="6" height="125" fill="#3570a1"/>
<rect x="1083" y="788" width="6" height="167" fill="#3570a1"/>
<rect x="1089" y="802" width="6" height="153" fill="#3570a1"/>
<rect x="1096" y="874" width="6" height="81" fill="#3570a1"/>
<rect x="1103" y="913" width="6" height="42" fill="#3570a1"/>
<rect x="1109" y="894" width="6" height="61" fill="#3570a1"/>
<rect x="1116" y="870" width="6" height="85" fill="#3570a1"/>
<rect x="1123" y="841" width="6" height="114" fill="#3570a1"/>
<rect x="1129" y="824" width="6" height="131" fill="#3570a1"/>
<rect x="1136" y="805" width="6" height="150" fill="#3570a1"/>
<rect x="1142" y="857" width="6" height="98" fill="#3570a1"/>
<rect x="1149" y="934" width="5" height="21" fill="#3570a1"/>
<rect x="1156" y="918" width="6" height="37" fill="#3570a1"/>
<rect x="1162" y="912" width="5" height="43" fill="#3570a1"/>
<rect x="1169" y="850" width="5" height="105" fill="#3570a1"/>
<rect x="1176" y="878" width="5" height="77" fill="#3570a1"/>
<rect x="1181" y="866" width="6" height="89" fill="#3570a1"/>
<rect x="1189" y="914" width="5" height="41" fill="#3570a1"/>
<rect x="1196" y="937" width="6" height="18" fill="#3570a1"/>
<rect x="1202" y="907" width="5" height="48" fill="#3570a1"/>
<rect x="1209" y="883" width="5" height="72" fill="#3570a1"/>
<rect x="1214" y="829" width="6" height="126" fill="#3570a1"/>
<rect x="1222" y="830" width="5" height="125" fill="#3570a1"/>
<rect x="1229" y="884" width="5" height="71" fill="#3570a1"/>
</g>
<line x1="709.5" y1="956" x2="709.5" y2="961" stroke="#f2f2f2" stroke-width="1"/>
<line x1="808.5" y1="956" x2="808.5" y2="961" stroke="#f2f2f2" stroke-width="1"/>
<line x1="907.5" y1="956" x2="907.5" y2="961" stroke="#f2f2f2" stroke-width="1"/>
<line x1="1006.5" y1="956" x2="1006.5" y2="961" stroke="#f2f2f2" stroke-width="1"/>
<line x1="1105.5" y1="956" x2="1105.5" y2="961" stroke="#f2f2f2" stroke-width="1"/>
<line x1="1204.5" y1="956" x2="1204.5" y2="961" stroke="#f2f2f2" stroke-width="1"/>
<text x="701.1" y="834" class="ax" text-anchor="end">40K</text>
<text x="701.1" y="897" class="ax" text-anchor="end">20K</text>
<text x="701.1" y="951" class="ax" text-anchor="end">0K</text>
<text x="710.5" y="975" class="ax" text-anchor="start">Dec 9, 20</text>
<text x="806" y="975" class="ax" text-anchor="middle">Dec 24, 20</text>
<text x="905.6" y="975" class="ax" text-anchor="middle">Jan 8, 21</text>
<text x="1004.2" y="975" class="ax" text-anchor="middle">Jan 23, 21</text>
<text x="1103.5" y="975" class="ax" text-anchor="middle">Feb 7, 21</text>
<text x="1203.2" y="975" class="ax" text-anchor="middle">Feb 22, 21</text>
<text x="986.7" y="998.5" class="axt" text-anchor="middle">Vaccination Date</text>
<text transform="translate(665.2,867) rotate(-90)" class="axt" text-anchor="middle">Individuals***</text>
</svg>

<!-- FOOTNOTES -->
<div class="a foot" style="top:1051.7px">* Indicates that an individual has received at least one valid dose of COVID-19 vaccine.<br>** Indicates that an individual has received all recommended COVID-19 vaccine doses and is considered fully immunized; specific requirements (number of doses, spacing, age restrictions) may vary depending on COVID-19 vaccine brand.<br>***A person is counted in the 'Vaccine Started' category on the day that they receive their first valid dose of COVID-19 vaccine.&nbsp; A person is counted in the 'Vaccine Completed' category on the day that they get their final recommended valid dose of<br>COVID-19 vaccine. All dates on this dashboard indicate the date the vaccine was administered.<br>****The number of confirmed valid vaccines identified by ODH over the last 24 hours ending at 6 am daily. Although most vaccines are identified within 24 hours of the vaccine administration date, some may take longer to be reported.</div>
<div class="a foot" style="top:1149.8px">Population data as reported by the US Census Bureau. There are no population estimates for “Unknown” or “Other” demographic groups, so there is no percentage of population for those groups.&nbsp; Data reported to the Ohio Department of Health.&nbsp; All<br>data displayed are preliminary and subject to change as more information is reported to ODH.</div>
</body></html>
